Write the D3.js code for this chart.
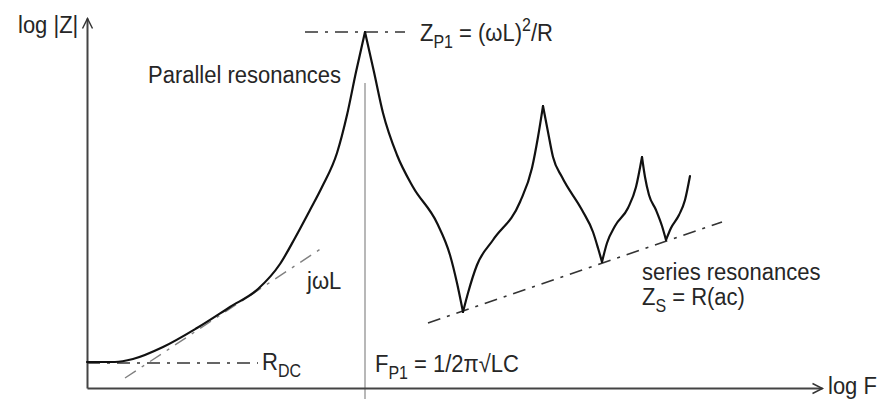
<!DOCTYPE html>
<html><head><meta charset="utf-8">
<script src="https://cdn.jsdelivr.net/npm/d3@7"></script>
<style>
body{margin:0;background:#fff}
text{font-family:"Liberation Sans",Arial,sans-serif;fill:#262626;font-size:22px}
</style>
</head><body>
<svg id="c" width="877" height="399"></svg>
<script>
// ---- data (arbitrary log units) ----
const impedance = [
  [0,26],[28,26],[46,29],[76,41],[110,60],[143,81],[171,99],[193,124],[208,150],[223,178],[235,201],[250,235],[260,273],[269,316],[278,356],
  [287,316],[296,275],[310,233],[326,201],[350,165],[363,133],[370,105],[376,76],
  [381,95],[390,123],[406,148],[433,186],[445,220],[451,251],[456,282],
  [461,256],[466,231],[475,211],[495,178],[506,156],[511,140],[515,126],
  [520,145],[528,162],[541,180],[549,201],[555,231],
  [558,211],[562,193],[569,178],[575,162],[579,148],
  [584,160],[592,173],[598,188],[603,212]
];
const rdcLine    = [[0,25],[171,25]];
const jwlLine    = [[38,10],[235,140]];
const seriesLine = [[341,65],[635,166]];
const zp1Line    = [[218,356],[318,356]];
const fp1Marker  = [[278,305],[278,-11]];

const axisLabels = {x:"log F", y:"log |Z|"};
const lblParallel = "Parallel resonances";
const lblSeries   = "series resonances";
const lblJwl      = "jωL";
const lblZp1 = [["Z",""],["P1","sub"],[" = (ωL)",""],["2","sup"],["/R",""]];
const lblRdc = [["R",""],["DC","sub"]];
const lblFp1 = [["F",""],["P1","sub"],[" = 1/2π√LC",""]];
const lblZs  = [["Z",""],["S","sub"],[" = R(ac)",""]];

// ---- drawing ----
const svg = d3.select("#c");
const x = d3.scaleLinear().domain([0,735]).range([87,822]);
const y = d3.scaleLinear().domain([0,370]).range([388,18]);

const defs = svg.append("defs");
defs.append("marker").attr("id","arr").attr("viewBox","-12 -7 14 14")
  .attr("markerWidth",14).attr("markerHeight",14).attr("markerUnits","userSpaceOnUse")
  .attr("refX",0).attr("refY",0).attr("orient","auto")
  .append("path").attr("d","M-10,-5L0,0L-10,5").attr("fill","none").attr("stroke","#333").attr("stroke-width",1.4);

const line = d3.line().x(d=>x(d[0])).y(d=>y(d[1]));

// vertical marker at F_P1
svg.append("path").attr("d",line(fp1Marker)).attr("stroke","#9a9a9a").attr("stroke-width",1.4).attr("fill","none");

// axes
const gx = svg.append("g").attr("transform",`translate(0,${y(0)})`)
  .call(d3.axisBottom(x).tickValues([]).tickSizeOuter(0));
const gy = svg.append("g").attr("transform",`translate(${x(0)},0)`)
  .call(d3.axisLeft(y).tickValues([]).tickSizeOuter(0));
[gx,gy].forEach(g=>g.select(".domain").attr("stroke","#444").attr("stroke-width",2).attr("marker-end","url(#arr)"));

// asymptotes
const dashDot = "13,7,3,7";
svg.append("path").attr("d",line(jwlLine)).attr("stroke","#808080").attr("stroke-width",1.4).attr("stroke-dasharray",dashDot).attr("fill","none");
[rdcLine, seriesLine, zp1Line].forEach(l=>{
  svg.append("path").attr("d",line(l)).attr("stroke","#333").attr("stroke-width",1.7).attr("stroke-dasharray",dashDot).attr("fill","none");
});

// impedance curve split at cusps
const cusp = [0];
for(let i=1;i<impedance.length-1;i++){
  const a=impedance[i][1]-impedance[i-1][1], b=impedance[i+1][1]-impedance[i][1];
  if(a*b<0) cusp.push(i);
}
cusp.push(impedance.length-1);
const smooth = d3.line().x(d=>x(d[0])).y(d=>y(d[1])).curve(d3.curveMonotoneX);
for(let k=0;k<cusp.length-1;k++){
  svg.append("path").attr("d",smooth(impedance.slice(cusp[k],cusp[k+1]+1)))
    .attr("fill","none").attr("stroke","#111").attr("stroke-width",2.2).attr("stroke-linecap","round");
}

// labels (slightly tall glyphs as in the reference)
const SY = 1.1;
function label(px,py){
  return svg.append("text").attr("x",0).attr("y",0).attr("transform",`translate(${px},${py}) scale(1,${SY})`);
}
function rich(px,py,parts){
  const t = label(px,py);
  let shift=0;
  parts.forEach(([s,k])=>{
    const target = k==="sub"?6:(k==="sup"?-9:0);
    t.append("tspan").attr("dy",target-shift).attr("font-size",k?"16px":"22px").text(s);
    shift=target;
  });
  return t;
}
label(18,33).text(axisLabels.y);
label(828,394).text(axisLabels.x);
label(148,83).text(lblParallel);
label(307,289).text(lblJwl);
label(642,280).text(lblSeries);
rich(420,41,lblZp1);
rich(262,370,lblRdc);
rich(375,372,lblFp1);
rich(642,305,lblZs);
</script>
</body></html>
